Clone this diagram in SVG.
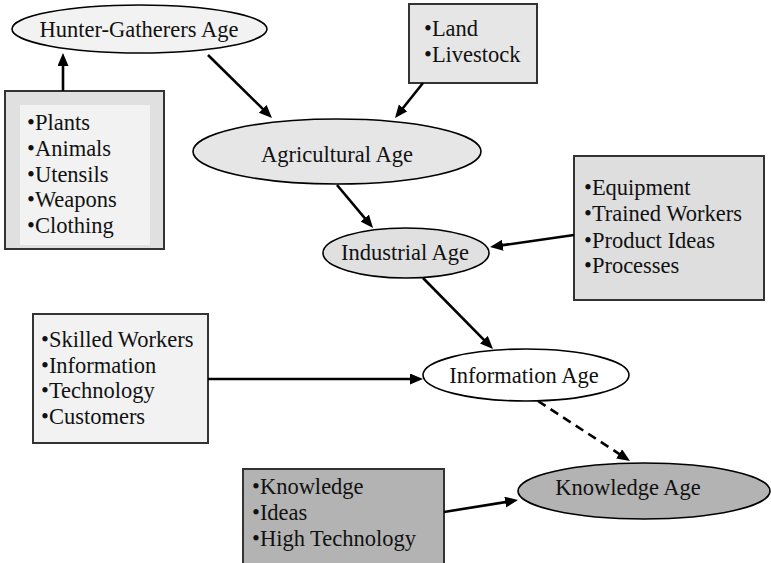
<svg xmlns="http://www.w3.org/2000/svg" width="771" height="563" viewBox="0 0 771 563">
  <style>
    text { font-family: "Liberation Serif", "Times New Roman", serif; font-size: 22.5px; fill: #111; }
    .age { text-anchor: middle; }
    .era { stroke: #000; stroke-width: 1.6; }
    .box { stroke: #333; stroke-width: 2; }
    .link { fill: none; stroke: #000; stroke-width: 2.6; marker-end: url(#head); }
    .dash { stroke-dasharray: 9 6; }
  </style>
  <defs>
    <marker id="head" markerUnits="userSpaceOnUse" markerWidth="14" markerHeight="12" refX="5" refY="5.5" orient="auto">
      <path d="M0,0 L13,5.5 L0,11 z" fill="#000" stroke="none"/>
    </marker>
  </defs>

  <!-- Ages -->
  <g id="hunter-gatherers">
    <ellipse class="era" cx="139.5" cy="29" rx="127.5" ry="24" fill="#f2f2f2"/>
    <text class="age" x="139" y="37">Hunter-Gatherers Age</text>
  </g>
  <g id="agricultural">
    <ellipse class="era" cx="337" cy="151.5" rx="144" ry="32.5" fill="#e6e6e6"/>
    <text class="age" x="337" y="162">Agricultural Age</text>
  </g>
  <g id="industrial">
    <ellipse class="era" cx="406" cy="253" rx="83" ry="25" fill="#e0e0e0"/>
    <text class="age" x="405" y="260">Industrial Age</text>
  </g>
  <g id="information">
    <ellipse class="era" cx="526" cy="375" rx="103" ry="26" fill="#ffffff"/>
    <text class="age" x="524" y="383">Information Age</text>
  </g>
  <g id="knowledge">
    <ellipse class="era" cx="644" cy="491" rx="126" ry="28" fill="#b3b3b3"/>
    <text class="age" x="628" y="495">Knowledge Age</text>
  </g>

  <!-- Resource lists -->
  <g id="hunter-resources">
    <rect class="box" x="5" y="91" width="159" height="158" fill="#e0e0e0"/>
    <rect x="20" y="105" width="130" height="140" fill="#f2f2f2"/>
    <text x="27" y="130">•Plants</text>
    <text x="27" y="156">•Animals</text>
    <text x="27" y="182">•Utensils</text>
    <text x="27" y="207">•Weapons</text>
    <text x="27" y="233">•Clothing</text>
  </g>
  <g id="agri-resources">
    <rect class="box" x="409" y="4" width="128" height="79" fill="#e6e6e6"/>
    <text x="424" y="36">•Land</text>
    <text x="424" y="62">•Livestock</text>
  </g>
  <g id="industrial-resources">
    <rect class="box" x="574" y="156" width="190" height="144" fill="#dedede"/>
    <text x="584" y="195">•Equipment</text>
    <text x="584" y="221">•Trained Workers</text>
    <text x="584" y="248">•Product Ideas</text>
    <text x="584" y="273">•Processes</text>
  </g>
  <g id="information-resources">
    <rect class="box" x="33" y="314" width="175" height="129" fill="#f2f2f2"/>
    <text x="41" y="347">•Skilled Workers</text>
    <text x="41" y="373">•Information</text>
    <text x="41" y="398">•Technology</text>
    <text x="41" y="424">•Customers</text>
  </g>
  <g id="knowledge-resources">
    <rect class="box" x="243" y="469" width="201" height="96" fill="#b3b3b3"/>
    <text x="252" y="494">•Knowledge</text>
    <text x="252" y="520">•Ideas</text>
    <text x="252" y="546">•High Technology</text>
  </g>

  <!-- Connectors -->
  <g id="connectors">
    <line class="link" x1="63" y1="91" x2="63" y2="61"/>
    <line class="link" x1="208" y1="55" x2="266.3" y2="112.4"/>
    <line class="link" x1="423" y1="83" x2="400" y2="111.8"/>
    <line class="link" x1="337" y1="185" x2="367.9" y2="221.9"/>
    <line class="link" x1="574" y1="235" x2="497.9" y2="245.9"/>
    <line class="link" x1="423" y1="278" x2="487.4" y2="343.3"/>
    <line class="link" x1="208" y1="379" x2="415" y2="379"/>
    <line class="link dash" x1="538" y1="401" x2="623.3" y2="456.6"/>
    <line class="link" x1="444" y1="512" x2="510.1" y2="501.3"/>
  </g>
</svg>
